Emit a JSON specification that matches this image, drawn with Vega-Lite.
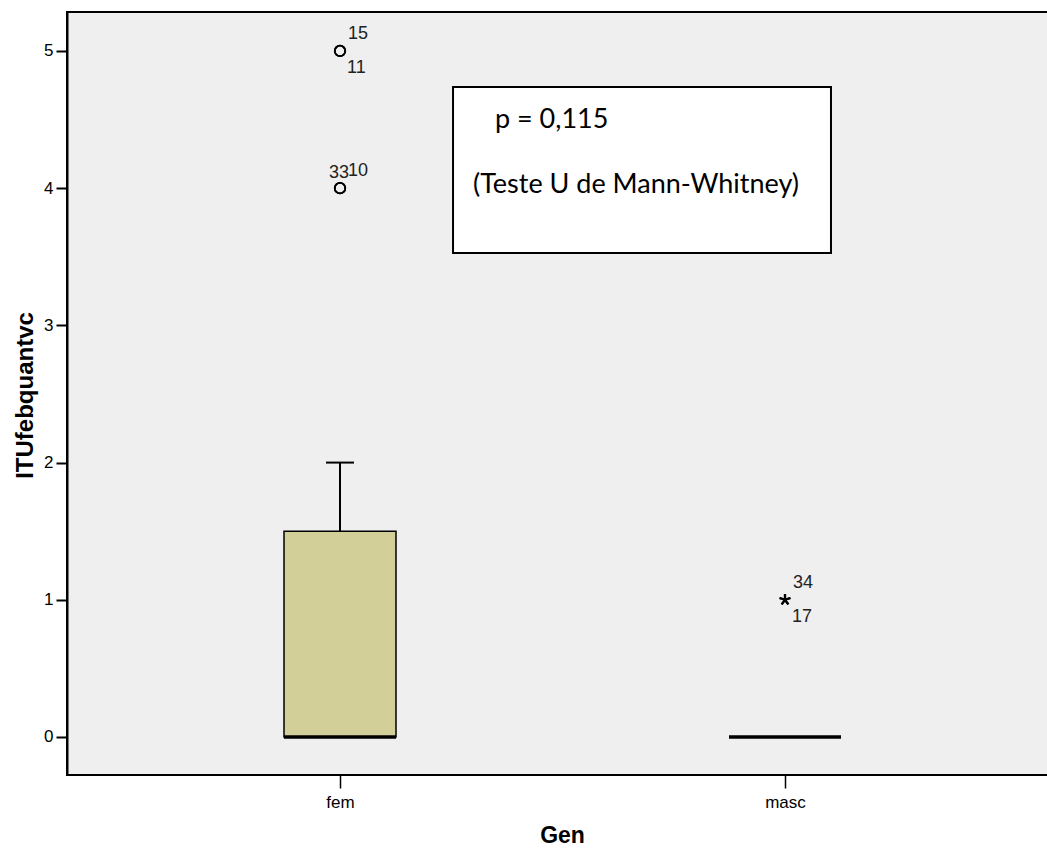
{
  "$schema": "https://vega.github.io/schema/vega-lite/v6.json",
  "width": 983,
  "height": 763,
  "autosize": {"type": "none"},
  "padding": {"left": 67, "top": 12, "right": 0, "bottom": 74},
  "background": "white",
  "config": {
    "view": {"fill": "#efefef", "stroke": "black", "strokeWidth": 2},
    "font": "Liberation Sans",
    "axis": {
      "grid": false,
      "labelFont": "Liberation Sans",
      "labelFontSize": 17,
      "labelColor": "black",
      "tickColor": "black",
      "domainColor": "black",
      "titleFont": "Liberation Sans",
      "titleFontWeight": "bold",
      "titleColor": "black"
    },
    "axisY": {
      "titleFontSize": 24,
      "titleAngle": -90,
      "titleBaseline": "middle",
      "titleAlign": "center",
      "titleX": -42,
      "titleY": 383,
      "tickSize": 11,
      "tickWidth": 2,
      "labelPadding": 3,
      "domainWidth": 2,
      "format": "d"
    },
    "axisX": {
      "titleFontSize": 23,
      "titleBaseline": "middle",
      "titleX": 495,
      "titleY": 60,
      "labelAngle": 0,
      "labelPadding": 6,
      "tickSize": 13,
      "tickWidth": 1.5,
      "domain": false
    }
  },
  "datasets": {
    "boxes": [
      {"Gen": "fem", "lower": 0, "q1": 0, "median": 0, "q3": 1.5, "upper": 2},
      {"Gen": "masc", "lower": 0, "q1": 0, "median": 0, "q3": 0, "upper": 0}
    ],
    "outliers": [
      {"Gen": "fem", "value": 5, "case": "15", "kind": "outlier"},
      {"Gen": "fem", "value": 5, "case": "11", "kind": "outlier"},
      {"Gen": "fem", "value": 4, "case": "33", "kind": "outlier"},
      {"Gen": "fem", "value": 4, "case": "10", "kind": "outlier"},
      {"Gen": "masc", "value": 1, "case": "34", "kind": "extreme"},
      {"Gen": "masc", "value": 1, "case": "17", "kind": "extreme"}
    ],
    "note": [
      {"bx": 0.3927, "bx2": 0.7772, "by": 3.528, "by2": 4.738}
    ],
    "noteText": [
      {"tx": 0.4354, "ty": 4.497, "label": "p = 0,115"},
      {"tx": 0.4130, "ty": 4.023, "label": "(Teste U de Mann-Whitney)"}
    ]
  },
  "layer": [
    {
      "encoding": {
        "x": {
          "field": "Gen",
          "type": "nominal",
          "scale": {"type": "point", "domain": ["fem", "masc"], "range": [273, 718], "padding": 0},
          "axis": {"title": "Gen"}
        }
      },
      "layer": [
        {
          "data": {"name": "boxes"},
          "mark": {"type": "rule", "color": "black", "strokeWidth": 2},
          "encoding": {
            "y": {
              "field": "q3",
              "type": "quantitative",
              "scale": {"domain": [-0.277, 5.284], "nice": false, "zero": false},
              "axis": {"title": "ITUfebquantvc", "values": [0, 1, 2, 3, 4, 5]}
            },
            "y2": {"field": "upper"}
          }
        },
        {
          "data": {"name": "boxes"},
          "mark": {"type": "tick", "color": "black", "opacity": 1, "size": 28, "thickness": 2},
          "transform": [{"filter": "datum.upper > datum.q3"}],
          "encoding": {
            "y": {"field": "upper", "type": "quantitative", "axis": {"title": "ITUfebquantvc", "values": [0, 1, 2, 3, 4, 5]}}
          }
        },
        {
          "data": {"name": "boxes"},
          "mark": {"type": "bar", "size": 112, "fill": "#d3cf99", "opacity": 1, "stroke": "black", "strokeWidth": 1.5},
          "transform": [{"filter": "datum.q3 > datum.q1"}],
          "encoding": {
            "y": {"field": "q1", "type": "quantitative", "axis": {"title": "ITUfebquantvc", "values": [0, 1, 2, 3, 4, 5]}},
            "y2": {"field": "q3"}
          }
        },
        {
          "data": {"name": "boxes"},
          "mark": {"type": "tick", "color": "black", "opacity": 1, "size": 112, "thickness": 3.5},
          "encoding": {
            "y": {"field": "median", "type": "quantitative", "axis": {"title": "ITUfebquantvc", "values": [0, 1, 2, 3, 4, 5]}}
          }
        },
        {
          "data": {"name": "outliers"},
          "mark": {"type": "point", "shape": "circle", "filled": false, "stroke": "black", "opacity": 1, "strokeWidth": 1.8, "size": 110},
          "transform": [{"filter": "datum.kind === 'outlier'"}],
          "encoding": {
            "y": {"field": "value", "type": "quantitative", "axis": {"title": "ITUfebquantvc", "values": [0, 1, 2, 3, 4, 5]}}
          }
        },
        {
          "data": {"name": "outliers"},
          "mark": {
            "type": "point",
            "shape": "M0,0L0,-1M0,0L0.951,-0.309M0,0L0.588,0.809M0,0L-0.588,0.809M0,0L-0.951,-0.309",
            "filled": false,
            "stroke": "black",
            "opacity": 1,
            "strokeWidth": 2.2,
            "size": 130
          },
          "transform": [{"filter": "datum.kind === 'extreme'"}],
          "encoding": {
            "y": {"field": "value", "type": "quantitative", "axis": {"title": "ITUfebquantvc", "values": [0, 1, 2, 3, 4, 5]}}
          }
        },
        {
          "data": {"name": "outliers"},
          "mark": {"type": "text", "align": "left", "baseline": "middle", "dx": 8, "dy": -17, "fontSize": 18, "font": "Liberation Sans", "color": "#222"},
          "transform": [{"filter": {"field": "case", "oneOf": ["15", "10", "34"]}}],
          "encoding": {
            "y": {"field": "value", "type": "quantitative", "axis": {"title": "ITUfebquantvc", "values": [0, 1, 2, 3, 4, 5]}},
            "text": {"field": "case"}
          }
        },
        {
          "data": {"name": "outliers"},
          "mark": {"type": "text", "align": "left", "baseline": "middle", "dx": 7, "dy": 17, "fontSize": 18, "font": "Liberation Sans", "color": "#222"},
          "transform": [{"filter": {"field": "case", "oneOf": ["11", "17"]}}],
          "encoding": {
            "y": {"field": "value", "type": "quantitative", "axis": {"title": "ITUfebquantvc", "values": [0, 1, 2, 3, 4, 5]}},
            "text": {"field": "case"}
          }
        },
        {
          "data": {"name": "outliers"},
          "mark": {"type": "text", "align": "left", "baseline": "middle", "dx": -11, "dy": -15, "fontSize": 18, "font": "Liberation Sans", "color": "#222"},
          "transform": [{"filter": {"field": "case", "oneOf": ["33"]}}],
          "encoding": {
            "y": {"field": "value", "type": "quantitative", "axis": {"title": "ITUfebquantvc", "values": [0, 1, 2, 3, 4, 5]}},
            "text": {"field": "case"}
          }
        }
      ]
    },
    {
      "encoding": {
        "x": {"type": "quantitative", "scale": {"domain": [0, 1], "nice": false, "zero": false}, "axis": null}
      },
      "layer": [
        {
          "data": {"name": "note"},
          "mark": {"type": "rect", "fill": "white", "stroke": "black", "strokeWidth": 2},
          "encoding": {
            "x": {"field": "bx", "type": "quantitative", "scale": {"domain": [0, 1], "nice": false, "zero": false}, "axis": null},
            "x2": {"field": "bx2"},
            "y": {"field": "by", "type": "quantitative", "axis": {"title": "ITUfebquantvc", "values": [0, 1, 2, 3, 4, 5]}},
            "y2": {"field": "by2"}
          }
        },
        {
          "data": {"name": "noteText"},
          "mark": {"type": "text", "align": "left", "baseline": "middle", "font": "Lato", "fontSize": 27, "color": "black"},
          "encoding": {
            "x": {"field": "tx", "type": "quantitative", "scale": {"domain": [0, 1], "nice": false, "zero": false}, "axis": null},
            "y": {"field": "ty", "type": "quantitative", "axis": {"title": "ITUfebquantvc", "values": [0, 1, 2, 3, 4, 5]}},
            "text": {"field": "label"}
          }
        }
      ]
    }
  ],
  "resolve": {"scale": {"x": "independent"}, "axis": {"x": "independent"}}
}
